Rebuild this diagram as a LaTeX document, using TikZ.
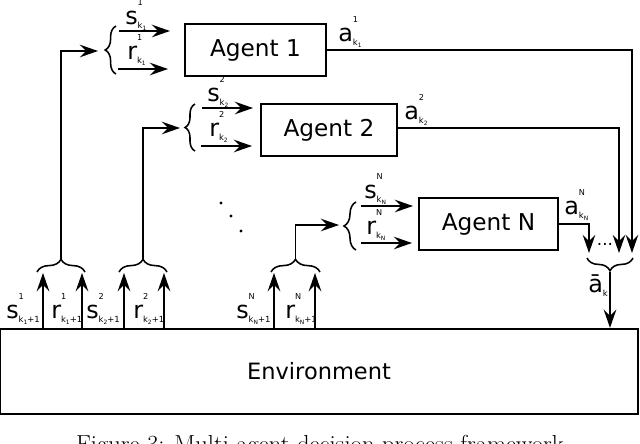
\documentclass[tikz,border=0pt]{standalone}
\usepackage{fontspec}
\newfontfamily\dv{DejaVu Sans}
\usetikzlibrary{arrows.meta,decorations.pathreplacing}
% label: main letter, superscript, subscript, sub-subscript, subscript tail
\newcommand\lbl[5]{#1\rlap{\raisebox{13pt}{\fontsize{5.8}{6}\selectfont#2}}%
\raisebox{-3pt}{\fontsize{6}{7}\selectfont#3\raisebox{-1.8pt}{\fontsize{4.2}{5}\selectfont#4}#5}}
\begin{document}
\begin{tikzpicture}[x=0.025cm,y=-0.025cm,
  agent/.style={draw,line width=1.1pt,minimum height=1.3cm,inner sep=0pt,
    font=\dv\fontsize{16.5}{18}\selectfont},
  env/.style={draw,line width=1.6pt,minimum width=15.95cm,minimum height=2.125cm,
    inner sep=0pt,font=\dv\fontsize{16}{18}\selectfont},
  lab/.style={inner sep=0pt,anchor=base west,font=\dv\fontsize{17}{19}\selectfont},
  arr/.style={line width=1.2pt,-{Stealth[length=13pt,width=9pt,inset=4.5pt]}},
  brc/.style={line width=1.1pt,decorate,decoration={brace,amplitude=#1}}]
\clip (0,0) rectangle (640,443);
\fill[white] (0,0) rectangle (640,443);

% agents and environment
\node[agent,minimum width=3.525cm] (A1) at (255.5,50) {Agent 1};
\node[agent,minimum width=3.4cm]   (A2) at (329,130) {Agent 2};
\node[agent,minimum width=3.475cm] (AN) at (488.5,224) {Agent N};
\node[env] (E) at (319,371.5) {Environment};

% input arrows to agents
\coordinate (s1a) at (119,31);  \coordinate (s1b) at (170,31);
\coordinate (r1a) at (118,69);  \coordinate (r1b) at (168,69);
\coordinate (s2a) at (202,108); \coordinate (s2b) at (253,108);
\coordinate (r2a) at (201,146); \coordinate (r2b) at (252,146);
\coordinate (sNa) at (361,206); \coordinate (sNb) at (413,206);
\coordinate (rNa) at (361,243); \coordinate (rNb) at (412,243);
\draw[arr] (s1a) -- (s1b);
\draw[arr] (r1a) -- (r1b);
\draw[arr] (s2a) -- (s2b);
\draw[arr] (r2a) -- (r2b);
\draw[arr] (sNa) -- (sNb);
\draw[arr] (rNa) -- (rNb);

\node[lab] (ls1) at (125,24) {\lbl{s}{1}{k}{1}{}};
\node[lab] (lr1) at (127,59) {\lbl{r}{1}{k}{1}{}};
\node[lab] (ls2) at (207,101) {\lbl{s}{2}{k}{2}{}};
\node[lab] (lr2) at (209,136) {\lbl{r}{2}{k}{2}{}};
\node[lab] (lsN) at (364,198) {\lbl{s}{N}{k}{N}{}};
\node[lab] (lrN) at (366,234) {\lbl{r}{N}{k}{N}{}};

% braces before agents
\draw[brc=0.27cm] (116,74) -- (116,26);
\draw[brc=0.25cm] (195,151) -- (195,104);
\draw[brc=0.3cm] (356,250) -- (356,202);

% bottom arrows out of the environment
\coordinate (b1) at (43,273);  \coordinate (b2) at (82,273);
\coordinate (b3) at (124,273); \coordinate (b4) at (164,273);
\coordinate (b5) at (274,273); \coordinate (b6) at (315,273);
\foreach \c in {b1,b2,b3,b4,b5,b6} \draw[arr] (E.north -| \c) -- (\c);

\node[lab] (ls1p) at (6,318) {\lbl{s}{1}{k}{1}{+1}};
\node[lab] (lr1p) at (51,318) {\lbl{r}{1}{k}{1}{+1}};
\node[lab] (ls2p) at (86,318) {\lbl{s}{2}{k}{2}{+1}};
\node[lab] (lr2p) at (133,318) {\lbl{r}{2}{k}{2}{+1}};
\node[lab] (lsNp) at (236,318) {\lbl{s}{N}{k}{N}{+1}};
\node[lab] (lrNp) at (285,318) {\lbl{r}{N}{k}{N}{+1}};

% bottom braces
\draw[brc=0.32cm] (37,272) -- (85,272);
\draw[brc=0.32cm] (119,272) -- (167,272);
\draw[brc=0.32cm] (271,272) -- (320,272);
\coordinate (g1) at (61,259);
\coordinate (g2) at (143,259);
\coordinate (gN) at (295.5,259);

% feedback arrows
\coordinate (f1) at (98,51);
\coordinate (f2) at (180,128);
\coordinate (fN) at (339,225);
\draw[arr] (g1) |- (f1);
\draw[arr] (g2) |- (f2);
\draw[arr] (gN) |- (fN);

% dots between agents
\fill (221,203) circle (1.7);
\fill (231,216) circle (1.7);
\fill (241,231) circle (1.7);

% outputs
\coordinate (o1) at (632,253);
\coordinate (o2) at (619,253);
\coordinate (oN) at (589,253);
\draw[arr] (A1.east) -| (o1);
\draw[arr] (A2.east |- 0,128) -| (o2);
\draw[arr] (AN.east) -| (oN);
\node[lab] (la1) at (338,41) {\lbl{a}{1}{k}{1}{}};
\node[lab] (la2) at (404,119) {\lbl{a}{2}{k}{2}{}};
\node[lab] (laN) at (564,214) {\lbl{a}{N}{k}{N}{}};
\node[inner sep=0pt,font=\dv\fontsize{12}{13}\selectfont] (dd) at (605,244) {...};

% joint action
\draw[brc=0.32cm] (633,258) -- (587,258);
\coordinate (jt) at (610,272);
\draw[arr] (jt) -- (E.north -| jt);
\node[lab] (lab) at (588,292) {\lbl{\=a}{}{k}{}{}};

% caption (cut by the picture's lower edge)
\node[inner sep=0pt,anchor=base,font=\fontsize{17.5}{19}\selectfont] (cap) at (320,452)
  {Figure 3: Multi-agent decision process framework};
\end{tikzpicture}
\end{document}
